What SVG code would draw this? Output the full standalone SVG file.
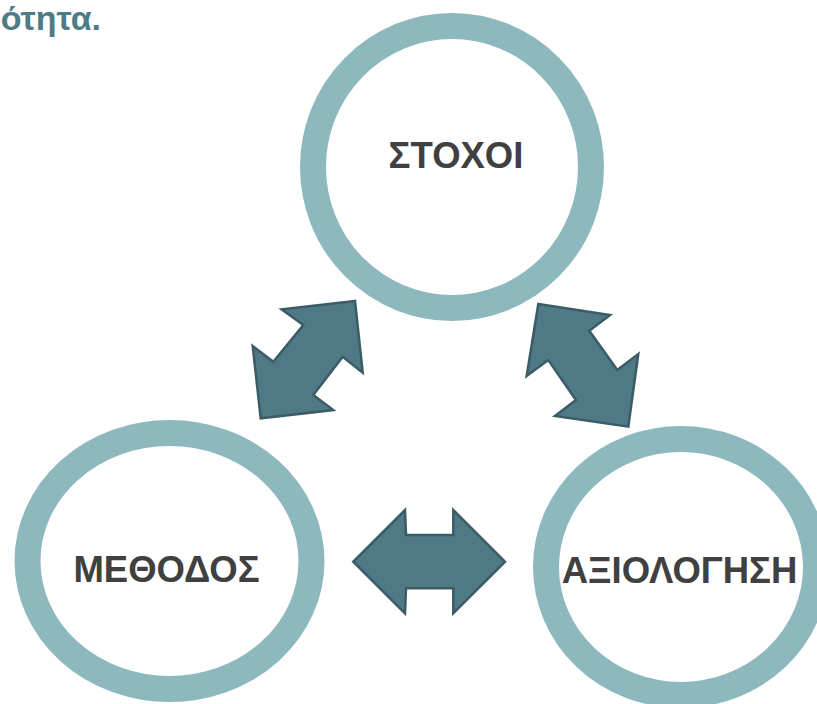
<svg xmlns="http://www.w3.org/2000/svg" width="817" height="704" viewBox="0 0 817 704">
<style>
.ring{fill:#ffffff;stroke:#8db9be;stroke-width:26}
.lbl{font-family:"Liberation Sans",Arial,sans-serif;font-weight:bold;font-size:36.5px;fill:#404040;text-anchor:middle}
.arr{fill:#4f7985;stroke:#3a5c66;stroke-width:2.5;stroke-linejoin:miter}
.title{font-family:"Liberation Sans",Arial,sans-serif;font-weight:bold;font-size:34px;fill:#4e7b87;text-anchor:end}
</style>
<rect width="817" height="704" fill="#ffffff"/>
<text class="title" x="101" y="30">ότητα.</text>
<g id="node-stochoi">
<ellipse class="ring" cx="452" cy="167" rx="139" ry="141"/>
<text class="lbl" x="456" y="168">ΣΤΟΧΟΙ</text>
</g>
<g id="node-methodos">
<ellipse class="ring" cx="169.5" cy="561" rx="142" ry="128"/>
<text class="lbl" x="166.5" y="582">ΜΕΘΟΔΟΣ</text>
</g>
<g id="node-axiologisi">
<ellipse class="ring" cx="681" cy="567" rx="135" ry="128"/>
<text class="lbl" x="679.5" y="583">ΑΞΙΟΛΟΓΗΣΗ</text>
</g>
<g id="connectors">
<polygon class="arr" points="355,301 281.7,309.3 303.3,325 273.3,361.7 252.7,346 260.7,418.3 333.3,410 313.3,395 342.7,356.7 362.7,372.7"/>
<polygon class="arr" points="538.3,304 610,315 589.3,330.7 617.3,370 638.3,354 628.3,426.7 555,416 576,400 548.3,360 526.7,376"/>
<polygon class="arr" points="353.3,561.7 405,510 406,535 453.3,535 453.3,510 505,561.7 453.3,613.3 453.3,588.3 406,588.3 405,613.3"/>
</g>
</svg>
